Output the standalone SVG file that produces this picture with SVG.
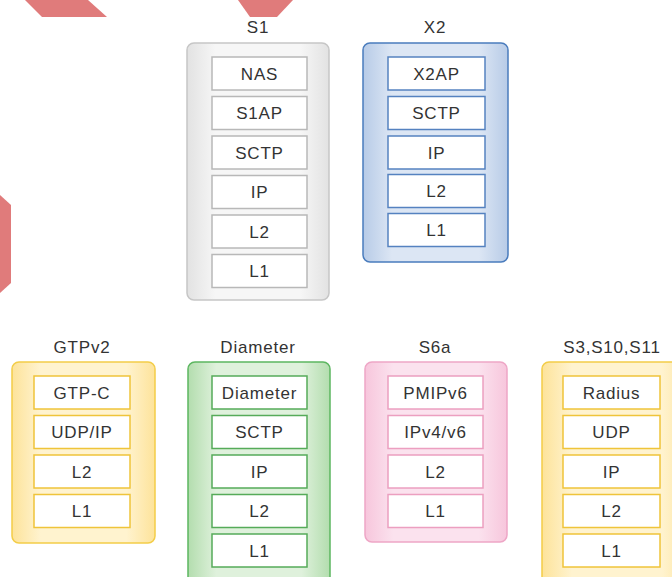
<svg xmlns="http://www.w3.org/2000/svg" width="672" height="577" viewBox="0 0 672 577">
  <style>
    text { font-family: "Liberation Sans", Arial, sans-serif; font-size: 17px; letter-spacing: 0.8px; fill: #333333; text-anchor: middle; }
    .layer { fill: #ffffff; stroke-width: 1.5; }
    .frame { stroke-width: 1.5; }
    .gray .frame { fill: url(#gGray); stroke: #c6c6c6; }
    .gray .layer { stroke: #b8b8b8; }
    .blue .frame { fill: url(#gBlue); stroke: #4a7cbd; }
    .blue .layer { stroke: #5582c0; }
    .yellow .frame { fill: url(#gYellow); stroke: #f3cd48; }
    .yellow .layer { stroke: #efc43a; }
    .green .frame { fill: url(#gGreen); stroke: #5cb660; }
    .green .layer { stroke: #56ab59; }
    .pink .frame { fill: url(#gPink); stroke: #eea6c6; }
    .pink .layer { stroke: #ec9fc0; }
    .deco { fill: #e07b7b; }
  </style>
  <defs>
    <linearGradient id="gGray" x1="0" y1="0" x2="1" y2="0">
      <stop offset="0" stop-color="#e2e2e2"/>
      <stop offset="0.2" stop-color="#f6f6f6"/>
      <stop offset="0.8" stop-color="#f6f6f6"/>
      <stop offset="1" stop-color="#e2e2e2"/>
    </linearGradient>
    <linearGradient id="gBlue" x1="0" y1="0" x2="1" y2="0">
      <stop offset="0" stop-color="#b7cbe7"/>
      <stop offset="0.2" stop-color="#dce6f4"/>
      <stop offset="0.8" stop-color="#dce6f4"/>
      <stop offset="1" stop-color="#b7cbe7"/>
    </linearGradient>
    <linearGradient id="gYellow" x1="0" y1="0" x2="1" y2="0">
      <stop offset="0" stop-color="#fde39a"/>
      <stop offset="0.2" stop-color="#fff3cf"/>
      <stop offset="0.8" stop-color="#fff3cf"/>
      <stop offset="1" stop-color="#fde39a"/>
    </linearGradient>
    <linearGradient id="gGreen" x1="0" y1="0" x2="1" y2="0">
      <stop offset="0" stop-color="#b3ddae"/>
      <stop offset="0.2" stop-color="#dff1dc"/>
      <stop offset="0.8" stop-color="#dff1dc"/>
      <stop offset="1" stop-color="#b3ddae"/>
    </linearGradient>
    <linearGradient id="gPink" x1="0" y1="0" x2="1" y2="0">
      <stop offset="0" stop-color="#f7c6dc"/>
      <stop offset="0.2" stop-color="#fbe2ee"/>
      <stop offset="0.8" stop-color="#fbe2ee"/>
      <stop offset="1" stop-color="#f7c6dc"/>
    </linearGradient>
  </defs>

  <rect width="672" height="577" fill="#ffffff"/>

  <!-- decorative red shapes -->
  <polygon class="deco" points="25,0 88,0 107,17 42,17"/>
  <polygon class="deco" points="238,0 293,0 277,17 250,17"/>
  <polygon class="deco" points="0,195 11,205 11,283 0,293"/>

  <!-- S1 stack -->
  <g id="s1" class="gray">
    <text x="258" y="33">S1</text>
    <rect class="frame" x="187" y="43" width="142" height="257" rx="7"/>
    <rect class="layer" x="212" y="57" width="95" height="33"/>
    <text x="259.5" y="79.5">NAS</text>
    <rect class="layer" x="212" y="96.5" width="95" height="33"/>
    <text x="259.5" y="119">S1AP</text>
    <rect class="layer" x="212" y="136" width="95" height="33"/>
    <text x="259.5" y="158.5">SCTP</text>
    <rect class="layer" x="212" y="175.5" width="95" height="33"/>
    <text x="259.5" y="198">IP</text>
    <rect class="layer" x="212" y="215" width="95" height="33"/>
    <text x="259.5" y="237.5">L2</text>
    <rect class="layer" x="212" y="254.5" width="95" height="33"/>
    <text x="259.5" y="277">L1</text>
  </g>

  <!-- X2 stack -->
  <g id="x2" class="blue">
    <text x="435" y="33">X2</text>
    <rect class="frame" x="363" y="43" width="145" height="219" rx="7"/>
    <rect class="layer" x="388" y="57" width="97" height="33"/>
    <text x="436.5" y="79.5">X2AP</text>
    <rect class="layer" x="388" y="96.5" width="97" height="33"/>
    <text x="436.5" y="119">SCTP</text>
    <rect class="layer" x="388" y="136" width="97" height="33"/>
    <text x="436.5" y="158.5">IP</text>
    <rect class="layer" x="388" y="174.5" width="97" height="33"/>
    <text x="436.5" y="197">L2</text>
    <rect class="layer" x="388" y="213.5" width="97" height="33"/>
    <text x="436.5" y="236">L1</text>
  </g>

  <!-- GTPv2 stack -->
  <g id="gtpv2" class="yellow">
    <text x="82" y="353">GTPv2</text>
    <rect class="frame" x="12" y="362" width="143" height="181" rx="7"/>
    <rect class="layer" x="34" y="376" width="96" height="33"/>
    <text x="82" y="398.5">GTP-C</text>
    <rect class="layer" x="34" y="415.5" width="96" height="33"/>
    <text x="82" y="438">UDP/IP</text>
    <rect class="layer" x="34" y="455" width="96" height="33"/>
    <text x="82" y="477.5">L2</text>
    <rect class="layer" x="34" y="494.5" width="96" height="33"/>
    <text x="82" y="517">L1</text>
  </g>

  <!-- Diameter stack -->
  <g id="diameter" class="green">
    <text x="258" y="353">Diameter</text>
    <rect class="frame" x="188" y="362" width="142" height="230" rx="7"/>
    <rect class="layer" x="212" y="376" width="95" height="33"/>
    <text x="259.5" y="398.5">Diameter</text>
    <rect class="layer" x="212" y="415.5" width="95" height="33"/>
    <text x="259.5" y="438">SCTP</text>
    <rect class="layer" x="212" y="455" width="95" height="33"/>
    <text x="259.5" y="477.5">IP</text>
    <rect class="layer" x="212" y="494.5" width="95" height="33"/>
    <text x="259.5" y="517">L2</text>
    <rect class="layer" x="212" y="534" width="95" height="33"/>
    <text x="259.5" y="556.5">L1</text>
  </g>

  <!-- S6a stack -->
  <g id="s6a" class="pink">
    <text x="435" y="353">S6a</text>
    <rect class="frame" x="365" y="362" width="142" height="180" rx="7"/>
    <rect class="layer" x="388" y="376" width="95" height="33"/>
    <text x="435.5" y="398.5">PMIPv6</text>
    <rect class="layer" x="388" y="415.5" width="95" height="33"/>
    <text x="435.5" y="438">IPv4/v6</text>
    <rect class="layer" x="388" y="455" width="95" height="33"/>
    <text x="435.5" y="477.5">L2</text>
    <rect class="layer" x="388" y="494.5" width="95" height="33"/>
    <text x="435.5" y="517">L1</text>
  </g>

  <!-- S3,S10,S11 stack -->
  <g id="s3s10s11" class="yellow">
    <text x="612" y="353">S3,S10,S11</text>
    <rect class="frame" x="542" y="362" width="150" height="230" rx="7"/>
    <rect class="layer" x="563" y="376" width="97" height="33"/>
    <text x="611.5" y="398.5">Radius</text>
    <rect class="layer" x="563" y="415.5" width="97" height="33"/>
    <text x="611.5" y="438">UDP</text>
    <rect class="layer" x="563" y="455" width="97" height="33"/>
    <text x="611.5" y="477.5">IP</text>
    <rect class="layer" x="563" y="494.5" width="97" height="33"/>
    <text x="611.5" y="517">L2</text>
    <rect class="layer" x="563" y="534" width="97" height="33"/>
    <text x="611.5" y="556.5">L1</text>
  </g>

  <!-- no connectors between the stacks -->
  <g id="connectors"/>
</svg>
